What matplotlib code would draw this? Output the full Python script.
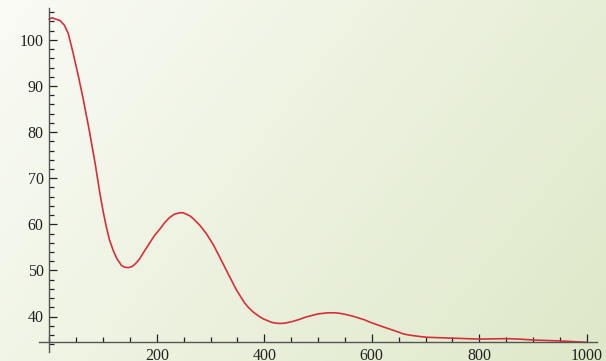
import numpy as np
import matplotlib
matplotlib.use("Agg")
import matplotlib.pyplot as plt
from matplotlib.ticker import MultipleLocator

# data
x = [0, 5, 12, 20, 28, 35, 44, 54, 63, 74, 85, 94, 100, 106, 112, 119, 126, 134,
     140, 147, 153, 158, 163, 168, 177, 187, 196, 206, 215, 224, 233, 243, 249,
     255, 262, 268, 274, 280, 286, 292, 305, 317, 333, 348, 356, 363, 371, 379,
     386, 392, 398, 404, 410, 415, 420, 426, 433, 440, 452, 466, 478, 491, 500,
     510, 518, 525, 532, 540, 553, 565, 575, 586, 596, 608, 620, 630, 640, 650,
     658, 668, 680, 690, 702, 725, 750, 775, 801, 826, 851, 875, 900, 925, 950,
     975, 999]
y = [104.5, 104.8, 104.5, 104.2, 103.2, 101.5, 97.3, 92.2, 87.2, 80.6, 73.4, 66.8,
     62.9, 59.5, 56.6, 54.3, 52.5, 51.1, 50.7, 50.6, 50.8, 51.2, 51.8, 52.5, 54.2,
     56.0, 57.6, 59.0, 60.4, 61.5, 62.2, 62.5, 62.5, 62.2, 61.8, 61.2, 60.5, 59.8,
     58.9, 58.0, 55.6, 52.9, 49.2, 45.8, 44.3, 43.0, 41.9, 41.0, 40.4, 39.9, 39.5,
     39.2, 38.9, 38.7, 38.6, 38.5, 38.5, 38.6, 38.9, 39.4, 39.9, 40.3, 40.55, 40.7,
     40.8, 40.8, 40.8, 40.7, 40.4, 40.05, 39.7, 39.3, 38.8, 38.3, 37.8, 37.4, 37.0,
     36.6, 36.25, 36.0, 35.8, 35.65, 35.5, 35.4, 35.3, 35.2, 35.1, 35.15, 35.2,
     35.1, 34.9, 34.8, 34.7, 34.55, 34.4]

x_ticks = [200, 400, 600, 800, 1000]
y_ticks = [40, 50, 60, 70, 80, 90, 100]
y_axis_at = 34.4

plt.rcParams['font.family'] = ['Liberation Serif', 'DejaVu Serif']

W, H = 606, 361
fig = plt.figure(figsize=(W / 100, H / 100), dpi=100)

# gradient background
bg = fig.add_axes([0, 0, 1, 1], zorder=-1)
u = np.linspace(0, 1, W)[None, :]
v = np.linspace(0, 1, H)[:, None]
t = 0.68 * u + 0.32 * v
c0 = np.array([250, 251, 245]) / 255
c1 = np.array([222, 232, 200]) / 255
img = c0[None, None, :] + (c1 - c0)[None, None, :] * t[:, :, None]
bg.imshow(img, aspect='auto', extent=[0, 1, 0, 1])
bg.axis('off')

# axes box in pixels: x 39..597, y 8..352 (from top)
left, right, top, bottom = 39, 597, 8, 352
ax = fig.add_axes([left / W, 1 - bottom / H, (right - left) / W, (bottom - top) / H])
ax.patch.set_alpha(0)
ax.set_xlim((left - 49.3) / 0.5375, (right - 49.3) / 0.5375)
ax.set_ylim(40 + (316.5 - bottom) / 4.61, 40 + (316.5 - top) / 4.61)

ax.plot(x, y, color='#d4303a', lw=1.2, solid_joinstyle='round')

for s in ['top', 'right']:
    ax.spines[s].set_visible(False)
ax.spines['left'].set_position(('data', 0))
ax.spines['bottom'].set_position(('data', y_axis_at))
for s in ['left', 'bottom']:
    ax.spines[s].set_color('#555555')
    ax.spines[s].set_linewidth(1.0)

ax.set_xticks(x_ticks)
ax.set_yticks(y_ticks)
ax.xaxis.set_minor_locator(MultipleLocator(50))
ax.yaxis.set_minor_locator(MultipleLocator(2))
ax.tick_params(which='major', direction='in', length=6, width=0.9, color='#222222',
               labelsize=11.5, labelcolor='#222222')
ax.tick_params(which='minor', direction='in', length=3.5, width=0.9, color='#222222')
ax.tick_params(axis='y', pad=4)
ax.tick_params(axis='x', pad=4)

fig.savefig('out.png', dpi=100)
